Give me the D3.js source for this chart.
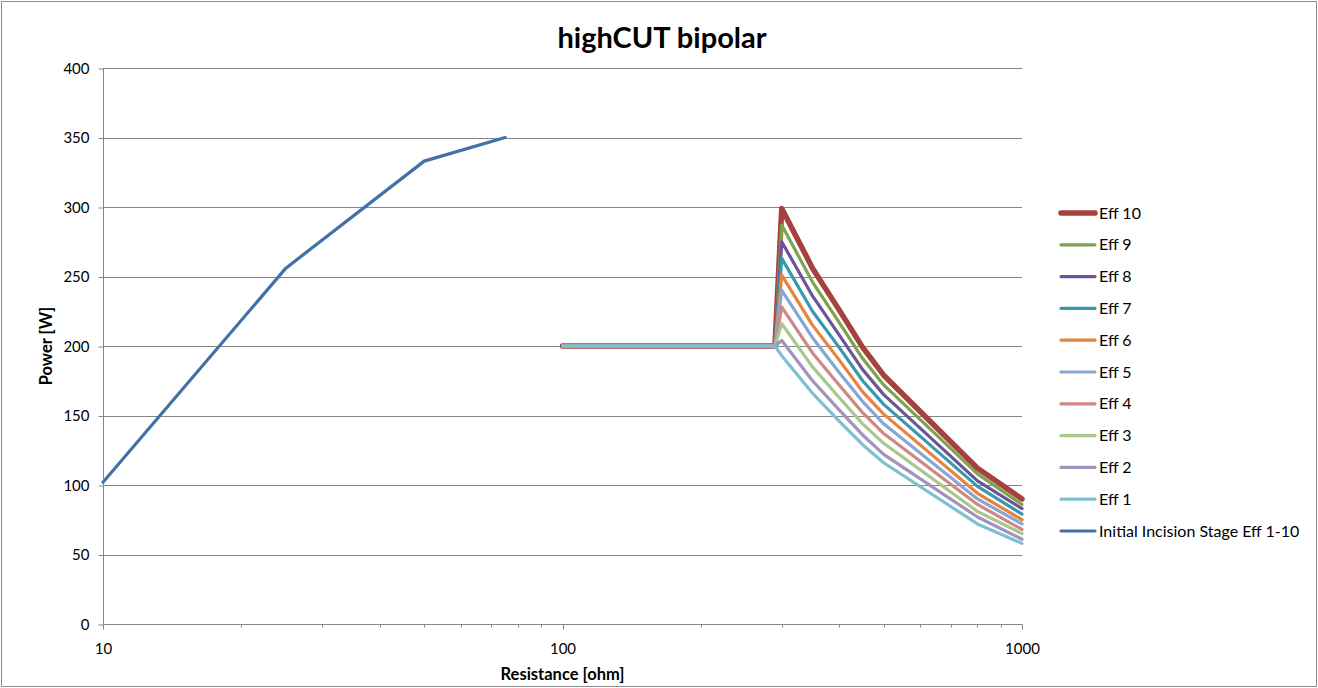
<!DOCTYPE html>
<html><head><meta charset="utf-8">
<script src="https://cdn.jsdelivr.net/npm/d3@7"></script>
<style>
html,body{margin:0;padding:0;background:#fff;}
svg{display:block;font-family:Lato,"Liberation Sans",sans-serif;}
</style></head>
<body>
<svg id="chart" width="1318" height="688"></svg>
<script>
// ---- data ----
const title = "highCUT bipolar";
const xTitle = "Resistance [ohm]";
const yTitle = "Power [W]";
const xTickValues = [10, 100, 1000];
const yTickValues = [0, 50, 100, 150, 200, 250, 300, 350, 400];

const initR = [10, 25, 50, 75];
const initP = [102, 256, 333, 350];

const effR = [100, 290, 300, 350, 400, 450, 500, 800, 1000];
const eff1  = [200, 200, 193, 166, 146, 129, 116, 72, 58];
const eff2  = [200, 200, 204, 175, 154, 136, 122, 77, 61];
const eff3  = [200, 200, 216, 185, 163, 144, 130, 81, 65];
const eff4  = [200, 200, 228, 195, 172, 152, 137, 86, 68];
const eff5  = [200, 200, 240, 206, 181, 160, 144, 90, 72];
const eff6  = [200, 200, 251, 215, 190, 167, 151, 94, 75];
const eff7  = [200, 200, 263, 225, 199, 175, 158, 99, 79];
const eff8  = [200, 200, 275, 236, 208, 183, 165, 103, 83];
const eff9  = [200, 200, 287, 246, 217, 191, 172, 108, 86];
const eff10 = [200, 200, 299, 256, 226, 199, 179, 112, 90];

const seriesNames = ["Eff 10","Eff 9","Eff 8","Eff 7","Eff 6","Eff 5","Eff 4","Eff 3","Eff 2","Eff 1","Initial Incision Stage Eff 1-10"];
const seriesColors = ["#A5423F","#7FA24C","#6A5696","#3798AE","#E5833F","#86A6D3","#CD8785","#A9C78C","#A193BB","#7EC0D2","#4271A8"];
const seriesWidths = [5.5,3.2,3.2,3.2,3.2,3.2,3.2,3.2,3.2,3.2,3.2];

// ---- build ----
const series = [
  {name: seriesNames[0], r: effR, p: eff10},
  {name: seriesNames[1], r: effR, p: eff9},
  {name: seriesNames[2], r: effR, p: eff8},
  {name: seriesNames[3], r: effR, p: eff7},
  {name: seriesNames[4], r: effR, p: eff6},
  {name: seriesNames[5], r: effR, p: eff5},
  {name: seriesNames[6], r: effR, p: eff4},
  {name: seriesNames[7], r: effR, p: eff3},
  {name: seriesNames[8], r: effR, p: eff2},
  {name: seriesNames[9], r: effR, p: eff1},
  {name: seriesNames[10], r: initR, p: initP}
].map((s,i)=>({...s, color: seriesColors[i], width: seriesWidths[i]}));

const svg = d3.select("#chart");
const L = 103, R = 1022, T = 68, B = 624;
const x = d3.scaleLog().domain([10,1000]).range([L,R]);
const y = d3.scaleLinear().domain([0,400]).range([B,T]);
const gridColor = "#868686";

// outer border
svg.append("rect").attr("x",1.5).attr("y",1.5).attr("width",1315).attr("height",685)
  .attr("fill","#fff").attr("stroke","#8c8c8c").attr("stroke-width",1);

// title
svg.append("text").attr("x",662).attr("y",48).attr("text-anchor","middle")
  .attr("font-weight","bold").attr("font-size",29).attr("fill","#000").text(title);

// gridlines
svg.append("g").selectAll("line").data(yTickValues.filter(v=>v>0)).join("line")
  .attr("x1",L).attr("x2",R).attr("y1",d=>Math.round(y(d))+0.5).attr("y2",d=>Math.round(y(d))+0.5)
  .attr("stroke",gridColor).attr("stroke-width",1);

// y axis
const yAxis = d3.axisLeft(y).tickValues(yTickValues).tickSize(5).tickPadding(9);
const gy = svg.append("g").attr("transform",`translate(${L+0.5},0.5)`).call(yAxis);
gy.select(".domain").attr("stroke",gridColor).attr("d",`M0,${T-0.5}V${B}`);
gy.selectAll(".tick line").attr("stroke",gridColor);
gy.selectAll("text").attr("font-size",15).attr("fill","#000").attr("font-family","Lato,'Liberation Sans',sans-serif");

// x axis (log) with minor ticks
const minorTicks = x.ticks().filter(v=>xTickValues.indexOf(v)<0);
const gx = svg.append("g").attr("transform",`translate(0.5,${B+0.5})`);
gx.append("line").attr("x1",L).attr("x2",R).attr("stroke",gridColor);
gx.selectAll("line.minor").data(minorTicks).join("line").attr("class","minor")
  .attr("x1",d=>Math.round(x(d))).attr("x2",d=>Math.round(x(d))).attr("y1",0).attr("y2",3).attr("stroke",gridColor);
gx.selectAll("line.major").data(xTickValues).join("line").attr("class","major")
  .attr("x1",d=>Math.round(x(d))).attr("x2",d=>Math.round(x(d))).attr("y1",0).attr("y2",5).attr("stroke",gridColor);
gx.selectAll("text").data(xTickValues).join("text")
  .attr("x",d=>x(d)).attr("y",29).attr("text-anchor","middle").attr("font-size",15).attr("fill","#000")
  .text(d=>d);

// axis titles
svg.append("text").attr("x",(L+R)/2).attr("y",680).attr("text-anchor","middle")
  .attr("font-weight","bold").attr("font-size",16.5).text(xTitle);
svg.append("text").attr("transform",`translate(52,${(T+B)/2}) rotate(-90)`).attr("text-anchor","middle")
  .attr("font-weight","bold").attr("font-size",16.5).text(yTitle);

// lines
const line = d3.line().x(d=>x(d[0])).y(d=>y(d[1]));
svg.append("g").selectAll("path").data(series).join("path")
  .attr("d",s=>line(s.r.map((r,i)=>[r,s.p[i]])))
  .attr("fill","none").attr("stroke",s=>s.color).attr("stroke-width",s=>s.width)
  .attr("stroke-linejoin","round").attr("stroke-linecap","round");

// legend
const lg = svg.append("g");
const rowY = d3.scaleLinear().domain([0,10]).range([213,531]);
const items = lg.selectAll("g").data(series).join("g").attr("transform",(s,i)=>`translate(0,${rowY(i)})`);
items.append("line").attr("x1",1061).attr("x2",1095).attr("y1",0).attr("y2",0)
  .attr("stroke",s=>s.color).attr("stroke-width",s=>s.width).attr("stroke-linecap","round");
items.append("text").attr("x",1099).attr("y",5.5).attr("font-size",16).attr("fill","#000").text(s=>s.name);
</script>
</body></html>
